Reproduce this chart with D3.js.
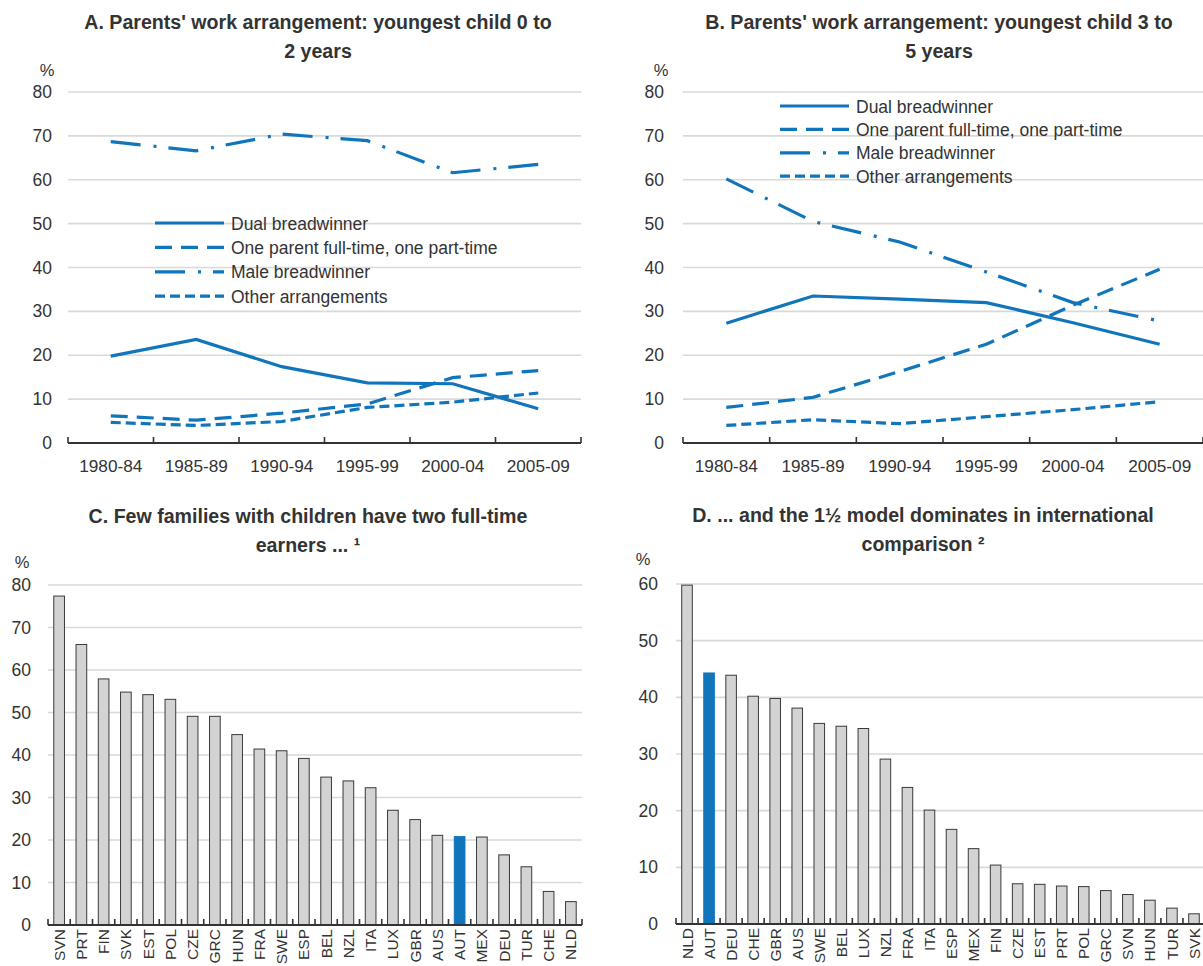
<!DOCTYPE html>
<html>
<head>
<meta charset="utf-8">
<script src="https://cdn.jsdelivr.net/npm/d3@7"></script>
<style>
  body { margin: 0; background: #fff; }
  svg text { font-family: "Liberation Sans", Arial, sans-serif; fill: #333; }
</style>
</head>
<body>
<svg id="chart" width="1203" height="966"></svg>
<script>
// ---- Data -------------------------------------------------------------
const periods = ["1980-84", "1985-89", "1990-94", "1995-99", "2000-04", "2005-09"];
const seriesNames = ["Dual breadwinner", "One parent full-time, one part-time", "Male breadwinner", "Other arrangements"];

// Panel A: youngest child 0 to 2 years (%)
const dualA    = [19.8, 23.6, 17.4, 13.7, 13.5, 7.8];
const onePtA   = [6.2, 5.2, 6.8, 8.9, 14.9, 16.5];
const maleA    = [68.7, 66.6, 70.4, 68.9, 61.6, 63.5];
const otherA   = [4.7, 4.0, 4.9, 8.1, 9.3, 11.4];

// Panel B: youngest child 3 to 5 years (%)
const dualB    = [27.3, 33.5, 32.8, 32.0, 27.4, 22.5];
const onePtB   = [8.1, 10.4, 16.3, 22.5, 31.4, 39.6];
const maleB    = [60.2, 50.5, 45.8, 39.0, 32.0, 27.8];
const otherB   = [4.0, 5.3, 4.4, 6.0, 7.6, 9.4];

// Panel C: families with two full-time earners (%)
const countriesC = ["SVN", "PRT", "FIN", "SVK", "EST", "POL", "CZE", "GRC", "HUN", "FRA", "SWE", "ESP",
                    "BEL", "NZL", "ITA", "LUX", "GBR", "AUS", "AUT", "MEX", "DEU", "TUR", "CHE", "NLD"];
const valuesC    = [77.4, 66.0, 57.9, 54.8, 54.2, 53.1, 49.1, 49.1, 44.8, 41.4, 41.0, 39.2,
                    34.8, 33.9, 32.3, 27.0, 24.8, 21.1, 20.8, 20.7, 16.5, 13.7, 7.9, 5.5];

// Panel D: one full-time, one part-time earner (%)
const countriesD = ["NLD", "AUT", "DEU", "CHE", "GBR", "AUS", "SWE", "BEL", "LUX", "NZL", "FRA", "ITA",
                    "ESP", "MEX", "FIN", "CZE", "EST", "PRT", "POL", "GRC", "SVN", "HUN", "TUR", "SVK"];
const valuesD    = [59.8, 44.3, 43.9, 40.2, 39.8, 38.1, 35.4, 34.9, 34.5, 29.1, 24.1, 20.1,
                    16.7, 13.3, 10.4, 7.1, 7.0, 6.7, 6.6, 5.9, 5.2, 4.2, 2.8, 1.8];

const yTicksLine = [0, 10, 20, 30, 40, 50, 60, 70, 80];
const yTicksC    = [0, 10, 20, 30, 40, 50, 60, 70, 80];
const yTicksD    = [0, 10, 20, 30, 40, 50, 60];
const highlight  = "AUT";

// ---- Styles -----------------------------------------------------------
const BLUE = "#1175bb";
const GRID = "#d9d9d9";
const AXIS = "#333333";
const BAR_FILL = "#d3d3d3";
const BAR_STROKE = "#3a3a3a";
const dashes = [null, "17,9", "30,13,3,12", "10,5"];
const TICK_FONT = 17.5;

const svg = d3.select("#chart");

function title(lines, cx, y0) {
  const t = svg.append("text")
    .attr("text-anchor", "middle")
    .attr("font-weight", "bold")
    .attr("font-size", 19.6);
  lines.forEach((ln, i) => {
    t.append("tspan").attr("x", cx).attr("y", y0 + i * 28.5).text(ln);
  });
}

function yAxis(g, y, ticks, xPlot, pad, pctX, pctY) {
  const ax = g.append("g")
    .attr("transform", `translate(${xPlot},0)`)
    .call(d3.axisLeft(y).tickValues(ticks).tickSize(0).tickPadding(pad));
  ax.select(".domain").remove();
  ax.selectAll("text").attr("font-size", TICK_FONT).attr("fill", "#333").style("font-family", null);
  ax.attr("font-family", null);
  g.append("text").attr("x", pctX).attr("y", pctY)
    .attr("text-anchor", "middle").attr("font-size", 16.5).text("%");
}

function grid(g, y, ticks, x0, x1) {
  g.selectAll("line.grid").data(ticks.filter(t => t > 0)).join("line")
    .attr("class", "grid")
    .attr("x1", x0).attr("x2", x1)
    .attr("y1", d => y(d)).attr("y2", d => y(d))
    .attr("stroke", GRID).attr("stroke-width", 1.6);
}

function boundaryTicks(g, xb, yBase) {
  const step = xb.step();
  const dom = xb.domain();
  const edges = dom.map(d => xb(d)).concat([xb(dom[dom.length - 1]) + step]);
  g.selectAll("line.tick-edge").data(edges).join("line")
    .attr("class", "tick-edge")
    .attr("x1", d => d).attr("x2", d => d)
    .attr("y1", yBase).attr("y2", yBase - 6)
    .attr("stroke", AXIS).attr("stroke-width", 1.6);
  g.append("line")
    .attr("x1", xb.range()[0]).attr("x2", xb.range()[1])
    .attr("y1", yBase).attr("y2", yBase)
    .attr("stroke", AXIS).attr("stroke-width", 2);
}

// ---- Line panels ------------------------------------------------------
function linePanel(cfg) {
  const g = svg.append("g");
  const x = d3.scaleBand().domain(periods).range([cfg.x0, cfg.x1]);
  const y = d3.scaleLinear().domain([0, 80]).range([cfg.yBottom, cfg.yTop]);

  grid(g, y, yTicksLine, cfg.x0, cfg.x1);
  yAxis(g, y, yTicksLine, cfg.x0, cfg.yPad, cfg.pctX, cfg.pctY);

  const line = d3.line()
    .x((d, i) => x(periods[i]) + x.bandwidth() / 2)
    .y(d => y(d));

  cfg.series.forEach((s, i) => {
    g.append("path")
      .datum(s)
      .attr("d", line)
      .attr("fill", "none")
      .attr("stroke", BLUE)
      .attr("stroke-width", 3.2)
      .attr("stroke-dasharray", dashes[i]);
  });

  boundaryTicks(g, x, cfg.yBottom);
  g.selectAll("text.xlab").data(periods).join("text")
    .attr("class", "xlab")
    .attr("x", d => x(d) + x.bandwidth() / 2)
    .attr("y", cfg.yBottom + 29)
    .attr("text-anchor", "middle")
    .attr("font-size", 17.2)
    .text(d => d);

  // legend
  const lg = g.append("g");
  seriesNames.forEach((nm, i) => {
    const ly = cfg.legY + i * cfg.legStep;
    lg.append("line")
      .attr("x1", cfg.legX).attr("x2", cfg.legX + 69)
      .attr("y1", ly).attr("y2", ly)
      .attr("stroke", BLUE).attr("stroke-width", 3.2)
      .attr("stroke-dasharray", dashes[i]);
    lg.append("text")
      .attr("x", cfg.legX + 76).attr("y", ly + 6.5)
      .attr("font-size", 17.5)
      .text(nm);
  });
}

linePanel({
  x0: 68, x1: 581, yBottom: 443, yTop: 92, yPad: 16, pctX: 47, pctY: 76,
  series: [dualA, onePtA, maleA, otherA],
  legX: 155, legY: 223, legStep: 24.4
});
linePanel({
  x0: 683, x1: 1203, yBottom: 443, yTop: 92, yPad: 19, pctX: 661, pctY: 76,
  series: [dualB, onePtB, maleB, otherB],
  legX: 780, legY: 106, legStep: 23.4
});

// ---- Bar panels -------------------------------------------------------
function barPanel(cfg) {
  const g = svg.append("g");
  const xb = d3.scaleBand().domain(cfg.cats).range([cfg.x0, cfg.x1]);
  const xbar = d3.scaleBand().domain(cfg.cats).range([cfg.x0, cfg.x1])
    .paddingInner(0.52).paddingOuter(0.26);
  const y = d3.scaleLinear().domain([0, cfg.yMax]).range([cfg.yBottom, cfg.yTop]);

  grid(g, y, cfg.ticks, cfg.x0, cfg.gridEnd);
  yAxis(g, y, cfg.ticks, cfg.x0, cfg.yPad, cfg.pctX, cfg.pctY);

  g.selectAll("rect.bar").data(cfg.cats.map((c, i) => ({ c, v: cfg.vals[i] }))).join("rect")
    .attr("class", "bar")
    .attr("x", d => xbar(d.c))
    .attr("width", xbar.bandwidth())
    .attr("y", d => y(d.v))
    .attr("height", d => y(0) - y(d.v))
    .attr("fill", d => d.c === highlight ? BLUE : BAR_FILL)
    .attr("stroke", d => d.c === highlight ? BLUE : BAR_STROKE)
    .attr("stroke-width", 1);

  boundaryTicks(g, xb, cfg.yBottom);

  g.selectAll("text.xlab").data(cfg.cats).join("text")
    .attr("class", "xlab")
    .attr("transform", d => `translate(${xb(d) + xb.bandwidth() / 2},${cfg.yBottom + 4}) rotate(-90)`)
    .attr("text-anchor", "end")
    .attr("dy", "0.36em")
    .attr("font-size", 15.5)
    .text(d => d);
}

barPanel({
  cats: countriesC, vals: valuesC, ticks: yTicksC, yMax: 80,
  x0: 48, x1: 582, gridEnd: 582, yBottom: 925, yTop: 585, yPad: 17, pctX: 22, pctY: 568
});
barPanel({
  cats: countriesD, vals: valuesD, ticks: yTicksD, yMax: 60,
  x0: 676, x1: 1205, gridEnd: 1203, yBottom: 924, yTop: 584, yPad: 18, pctX: 643, pctY: 565
});

// ---- Titles -----------------------------------------------------------
title(["A. Parents' work arrangement: youngest child 0 to", "2 years"], 318, 29);
title(["B. Parents' work arrangement: youngest child 3 to", "5 years"], 939, 29);
title(["C. Few families with children have two full-time", "earners ... \u00B9"], 308, 523);
title(["D. ... and the 1\u00BD model dominates in international", "comparison \u00B2"], 923, 522);
</script>
</body>
</html>
